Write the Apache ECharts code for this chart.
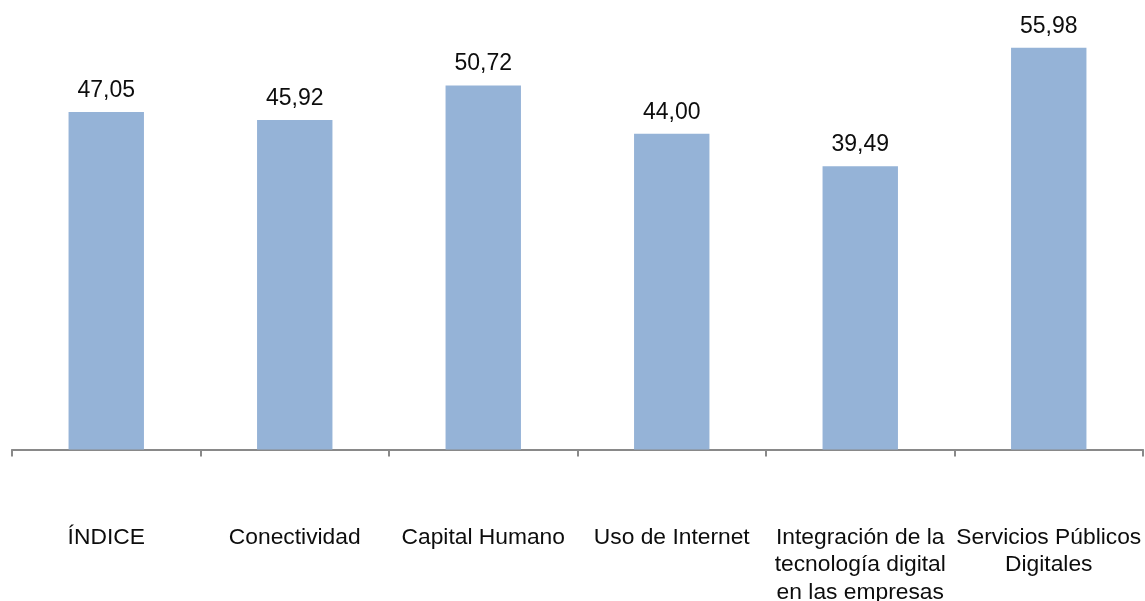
<!DOCTYPE html>
<html>
<head>
<meta charset="utf-8">
<script src="https://cdn.jsdelivr.net/npm/echarts@6/dist/echarts.min.js"></script>
<style>
html,body{margin:0;padding:0;background:#fff;}
#chart{width:1145px;height:601px;}
</style>
</head>
<body>
<div id="chart"></div>
<script>
const categories = ["ÍNDICE", "Conectividad", "Capital Humano", "Uso de Internet", "Integración de la\ntecnología digital\nen las empresas", "Servicios Públicos\nDigitales"];
const values = [47.05, 45.92, 50.72, 44.00, 39.49, 55.98];

const chart = echarts.init(document.getElementById('chart'));
chart.setOption({
  animation: false,
  textStyle: { fontFamily: 'Liberation Sans, Arial, sans-serif' },
  grid: { left: 12, right: 2, top: 19, bottom: 151.5, containLabel: false, outerBoundsMode: 'none' },
  xAxis: {
    type: 'category',
    data: categories,
    axisLine: { lineStyle: { color: '#898989', width: 2 } },
    axisTick: { show: true, length: 7, lineStyle: { color: '#898989', width: 2 } },
    axisLabel: { color: '#0d0d0d', fontSize: 22.8, margin: 74, lineHeight: 27.5, interval: 0, fontFamily: 'Liberation Sans, Arial, sans-serif' }
  },
  yAxis: {
    type: 'value', min: 0, max: 60, interval: 10,
    show: false, splitLine: { show: false }
  },
  series: [{
    type: 'bar',
    data: values,
    barWidth: '40%',
    itemStyle: { color: '#95B3D7' },
    label: {
      show: true, position: 'top', distance: 10,
      color: '#0d0d0d', fontSize: 23,
      fontFamily: 'Liberation Sans, Arial, sans-serif',
      formatter: p => p.value.toFixed(2).replace('.', ',')
    }
  }]
});
</script>
</body>
</html>
